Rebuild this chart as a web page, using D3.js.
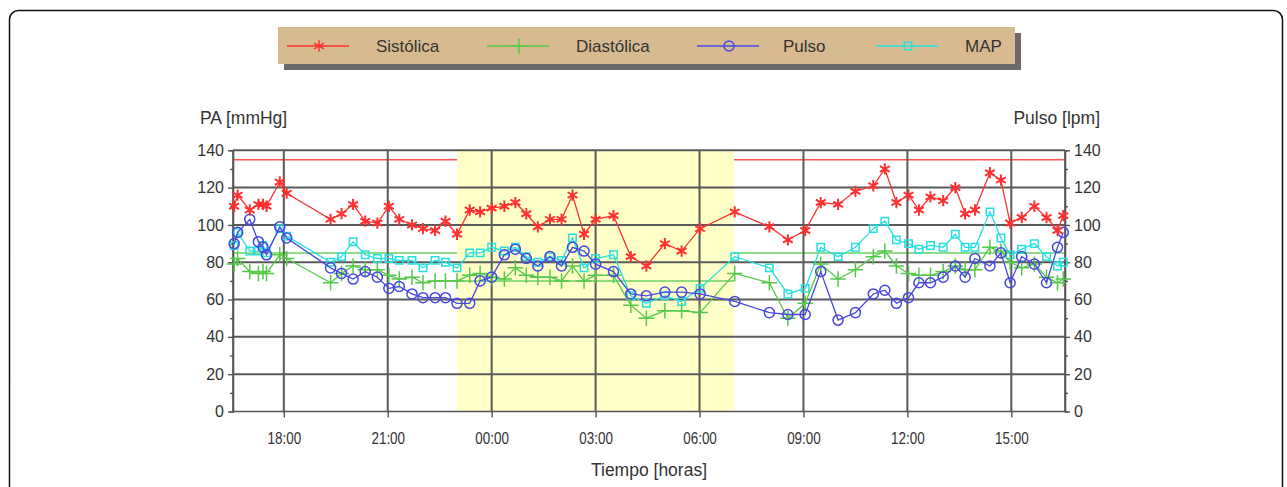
<!DOCTYPE html>
<html><head><meta charset="utf-8">
<script src="https://cdn.jsdelivr.net/npm/d3@7"></script>
<style>
html,body{margin:0;padding:0;background:#fff;}
text{font-family:"Liberation Sans",Arial,sans-serif;fill:#333;}
</style></head>
<body>
<svg id="c" width="1287" height="487"></svg>
<script>
const times = ["16:34","16:40","17:01","17:16","17:24","17:30","17:53","18:05","19:21","19:40","20:00","20:21","20:42","21:02","21:20","21:42","22:01","22:22","22:40","23:00","23:22","23:40","00:00","00:22","00:41","01:00","01:20","01:41","02:01","02:20","02:40","03:00","03:31","04:01","04:28","05:00","05:29","06:01","07:01","08:01","08:33","09:03","09:30","10:00","10:30","11:01","11:21","11:41","12:02","12:20","12:40","13:02","13:23","13:40","13:57","14:23","14:42","14:58","15:18","15:40","16:01","16:20","16:30"];
const sistolica = [110,116,108,111,111,110,123,117,103,106,111,102,101,110,103,100,98,97,102,95,108,107,109,110,112,106,99,103,103,116,95,103,105,83,78,90,86,98,107,99,92,97,112,111,118,121,130,112,116,108,115,113,120,106,108,128,124,101,104,110,104,97,105];
const diastolica = [79,82,75,74,75,74,84,82,69,74,78,76,76,73,71,72,69,70,70,70,73,74,72,71,77,73,72,72,70,78,70,73,73,57,50,54,54,53,74,69,50,58,79,71,76,83,86,78,74,73,73,75,78,76,76,88,86,80,77,79,72,69,71];
const pulso = [90,96,103,91,88,84,99,93,77,74,71,75,72,66,67,63,61,61,61,58,58,70,72,84,87,82,78,83,78,88,86,79,75,63,62,64,64,63,59,53,52,52,75,49,53,63,65,58,61,69,69,72,78,72,82,78,85,69,83,79,69,88,96];
const mapv = [89,96,86,86,89,85,98,94,80,83,91,84,82,82,81,81,77,81,80,77,85,85,88,86,88,83,80,83,81,93,77,82,84,62,58,62,59,66,83,77,63,66,88,83,88,98,102,92,90,87,89,88,95,88,88,107,93,84,87,90,83,78,80];
const yTicks = [0,20,40,60,80,100,120,140];
const xTickLabels = ["18:00","21:00","00:00","03:00","06:00","09:00","12:00","15:00"];
const seriesNames = ["Sistólica","Diastólica","Pulso","MAP"];
// limits: [day, night]
const sysLimits = [135,120];
const diaLimits = [85,70];
const nightSpan = ["23:00","07:00"];
const xSpan = ["16:32","16:33"];

function toDate(s, day){ const [h,m]=s.split(":").map(Number); return new Date(2000,0,1+day,h,m); }
let day=0, prev=-1;
const dates = times.map(s=>{ const [h,m]=s.split(":").map(Number); const v=h*60+m; if(v<prev) day++; prev=v; return toDate(s,day); });

const svg = d3.select("#c");
const L=233, R=1065, T=150.3, B=411.5;
const x = d3.scaleTime().domain([toDate(xSpan[0],0), toDate(xSpan[1],1)]).range([L,R]);
const y = d3.scaleLinear().domain([0,140]).range([B,T]);

// frame
svg.append("rect").attr("x",9.5).attr("y",10.5).attr("width",1273).attr("height",520).attr("rx",9)
  .attr("fill","#fff").attr("stroke","#111").attr("stroke-width",1.5);

// night band
const n0 = toDate(nightSpan[0],0), n1 = toDate(nightSpan[1],1);
svg.append("rect").attr("x",x(n0)).attr("y",T).attr("width",x(n1)-x(n0)).attr("height",B-T).attr("fill","#ffffc8");

// limit lines
const lim = svg.append("g");
const segs = [[toDate(xSpan[0],0),n0,0],[n0,n1,1],[n1,toDate(xSpan[1],1),0]];
segs.forEach(([a,b,k])=>{
  lim.append("line").attr("x1",x(a)).attr("x2",x(b)).attr("y1",y(sysLimits[k])).attr("y2",y(sysLimits[k])).attr("stroke","#ff5050").attr("stroke-width",k==1?1:1.5);
  lim.append("line").attr("x1",x(a)).attr("x2",x(b)).attr("y1",y(diaLimits[k])).attr("y2",y(diaLimits[k])).attr("stroke","#6cd060").attr("stroke-width",1.5);
});

// grid
const xt = d3.timeHour.every(3).range(toDate(xSpan[0],0), toDate(xSpan[1],1));
const grid = svg.append("g").attr("stroke","#5a5a5a").attr("stroke-width",2);
yTicks.filter(v=>v>0).forEach(v=>grid.append("line").attr("x1",L).attr("x2",R).attr("y1",y(v)).attr("y2",y(v)));
xt.forEach(d=>grid.append("line").attr("x1",x(d)).attr("x2",x(d)).attr("y1",T).attr("y2",B));

// axes
const ax = svg.append("g").attr("transform",`translate(0,${B})`).call(d3.axisBottom(x).tickValues(xt).tickFormat((d,i)=>xTickLabels[i]).tickSize(6).tickPadding(15));
const al = svg.append("g").attr("transform",`translate(${L},0)`).call(d3.axisLeft(y).tickValues(yTicks).tickSize(5).tickPadding(4));
const ar = svg.append("g").attr("transform",`translate(${R},0)`).call(d3.axisRight(y).tickValues(yTicks).tickSize(5).tickPadding(4));
const minor = d3.range(10,140,20);
svg.append("g").attr("transform",`translate(${L},0)`).call(d3.axisLeft(y).tickValues(minor).tickSize(3).tickFormat(""));
svg.append("g").attr("transform",`translate(${R},0)`).call(d3.axisRight(y).tickValues(minor).tickSize(3).tickFormat(""));
[ax,al,ar].forEach(g=>{ g.selectAll("text").attr("font-size",16).attr("fill","#2a2a2a"); });
ax.selectAll("text").attr("transform","scale(0.84,1)");
svg.selectAll(".domain").attr("stroke","#555").attr("stroke-width",1.6);
svg.selectAll(".tick line").attr("stroke","#555").attr("stroke-width",1.4);
ax.select(".domain").attr("d",`M${L},0H${R}`);
al.select(".domain").attr("d",`M0,${T}V${B}`);
ar.select(".domain").attr("d",`M0,${T}V${B}`);
svg.selectAll(".tick text").style("font-family","'Liberation Sans',Arial,sans-serif");

// titles
svg.append("text").attr("x",200).attr("y",124).attr("font-size",17.5).text("PA [mmHg]");
svg.append("text").attr("x",1100).attr("y",124).attr("font-size",17.5).attr("text-anchor","end").text("Pulso [lpm]");
svg.append("text").attr("x",649).attr("y",476).attr("font-size",17.5).attr("text-anchor","middle").text("Tiempo [horas]");

// series
const colors = ["#ff3030","#55c84a","#4848e0","#28e0e0"];
const star = d3.symbolAsterisk || d3.symbolCross;
const plus = d3.symbolPlus || d3.symbolCross;
const sq = d3.symbolSquare2 || d3.symbolSquare;
const symbols = [d3.symbol(star,90), d3.symbol(plus,80), d3.symbol(d3.symbolCircle,80), d3.symbol(sq,70)];
const vals = [sistolica,diastolica,pulso,mapv];
const order = [3,1,2,0];
const line = d3.line().x(d=>x(d[0])).y(d=>y(d[1]));
order.forEach(k=>{
  const pts = dates.map((d,i)=>[d,vals[k][i]]);
  const g = svg.append("g");
  g.append("path").attr("d",line(pts)).attr("fill","none").attr("stroke",colors[k]).attr("stroke-width",1.3);
  g.selectAll("path.m").data(pts).join("path").attr("class","m")
    .attr("transform",d=>`translate(${x(d[0])},${y(d[1])})`).attr("d",symbols[k])
    .attr("fill","none").attr("stroke",colors[k]).attr("stroke-width",k==0?2:1.5);
});

// legend
const lg = svg.append("g");
lg.append("rect").attr("x",284).attr("y",33).attr("width",737).attr("height",37).attr("fill","#6a6a6a");
lg.append("rect").attr("x",278).attr("y",27).attr("width",737).attr("height",37).attr("fill","#d8ba90");
const lgx = [287,487,697,876], lgt = [376,576,783,965];
seriesNames.forEach((n,k)=>{
  lg.append("line").attr("x1",lgx[k]).attr("x2",lgx[k]+62).attr("y1",46).attr("y2",46).attr("stroke",colors[k]).attr("stroke-width",1.5);
  lg.append("path").attr("transform",`translate(${lgx[k]+32},46)`).attr("d",symbols[k]).attr("fill","none").attr("stroke",colors[k]).attr("stroke-width",1.5);
  lg.append("text").attr("x",lgt[k]).attr("y",52).attr("font-size",17).attr("fill","#222").text(n);
});
</script>
</body></html>
